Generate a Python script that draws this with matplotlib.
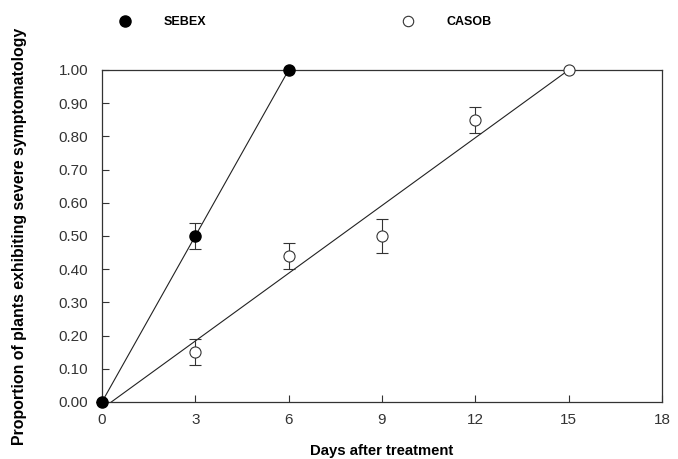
import matplotlib.pyplot as plt
from matplotlib.lines import Line2D

plt.rcParams['font.family'] = ['Liberation Sans', 'DejaVu Sans']

# datos
dias = [0, 3, 6, 9, 12, 15]
sebex_x = [0, 3, 6]
sebex_y = [0.00, 0.50, 1.00]
sebex_err = [0.0, 0.04, 0.0]
casob_x = [3, 6, 9, 12, 15]
casob_y = [0.15, 0.44, 0.50, 0.85, 1.00]
casob_err = [0.04, 0.04, 0.05, 0.04, 0.0]

# rectas de ajuste (extremos)
sebex_fit_x = [0, 6]
sebex_fit_y = [0.0, 1.0]
casob_fit_x = [0.3, 15]
casob_fit_y = [0.0, 1.0]

fig = plt.figure(figsize=(6.78, 4.59), dpi=100)
ax = fig.add_axes([0.1504, 0.1242, 0.826, 0.7233])

ax.plot(sebex_fit_x, sebex_fit_y, color='#222222', lw=0.8, zorder=2)
ax.plot(casob_fit_x, casob_fit_y, color='#222222', lw=0.8, zorder=2)

ax.errorbar(sebex_x, sebex_y, yerr=sebex_err, fmt='o', ms=8, color='black',
            mfc='black', mec='black', ecolor='#333333', elinewidth=0.8,
            capsize=4, capthick=0.8, zorder=3, clip_on=False)
ax.errorbar(casob_x, casob_y, yerr=casob_err, fmt='o', ms=8, color='black',
            mfc='white', mec='#333333', mew=0.8, ecolor='#333333',
            elinewidth=0.8, capsize=4, capthick=0.8, zorder=3, clip_on=False)

ax.set_xlim(0, 18)
ax.set_ylim(0, 1.0)
ax.set_xticks(range(0, 19, 3))
ax.set_yticks([i / 10 for i in range(11)])
ax.set_yticklabels(['%.2f' % (i / 10) for i in range(11)])
ax.tick_params(direction='in', length=5, width=0.8, labelsize=11,
               colors='#333333')
ax.tick_params(axis='y', pad=10)
ax.tick_params(axis='x', pad=8)
for s in ax.spines.values():
    s.set_linewidth(0.9)
    s.set_color('#333333')

ax.set_xlabel('Days after treatment', fontsize=10.7, fontweight='bold')
ax.set_ylabel('Proportion of plants exhibiting severe symptomatology',
              fontsize=11.4, fontweight='bold')
ax.xaxis.set_label_coords(0.5, -0.128)
ax.yaxis.set_label_coords(-0.134, 0.5)

handles = [
    Line2D([], [], ls='none', marker='o', ms=8, mfc='black', mec='black'),
    Line2D([], [], ls='none', marker='o', ms=7.5, mfc='white', mec='#333333', mew=0.8),
]
fig.legend(handles, ['SEBEX', 'CASOB'], loc='center left',
           bbox_to_anchor=(0.157, 0.952), ncol=2, frameon=False,
           prop={'size': 9, 'weight': 'bold'}, borderpad=0,
           handlelength=2, handletextpad=2.1, columnspacing=15.1)

fig.savefig('out.png', dpi=100)
